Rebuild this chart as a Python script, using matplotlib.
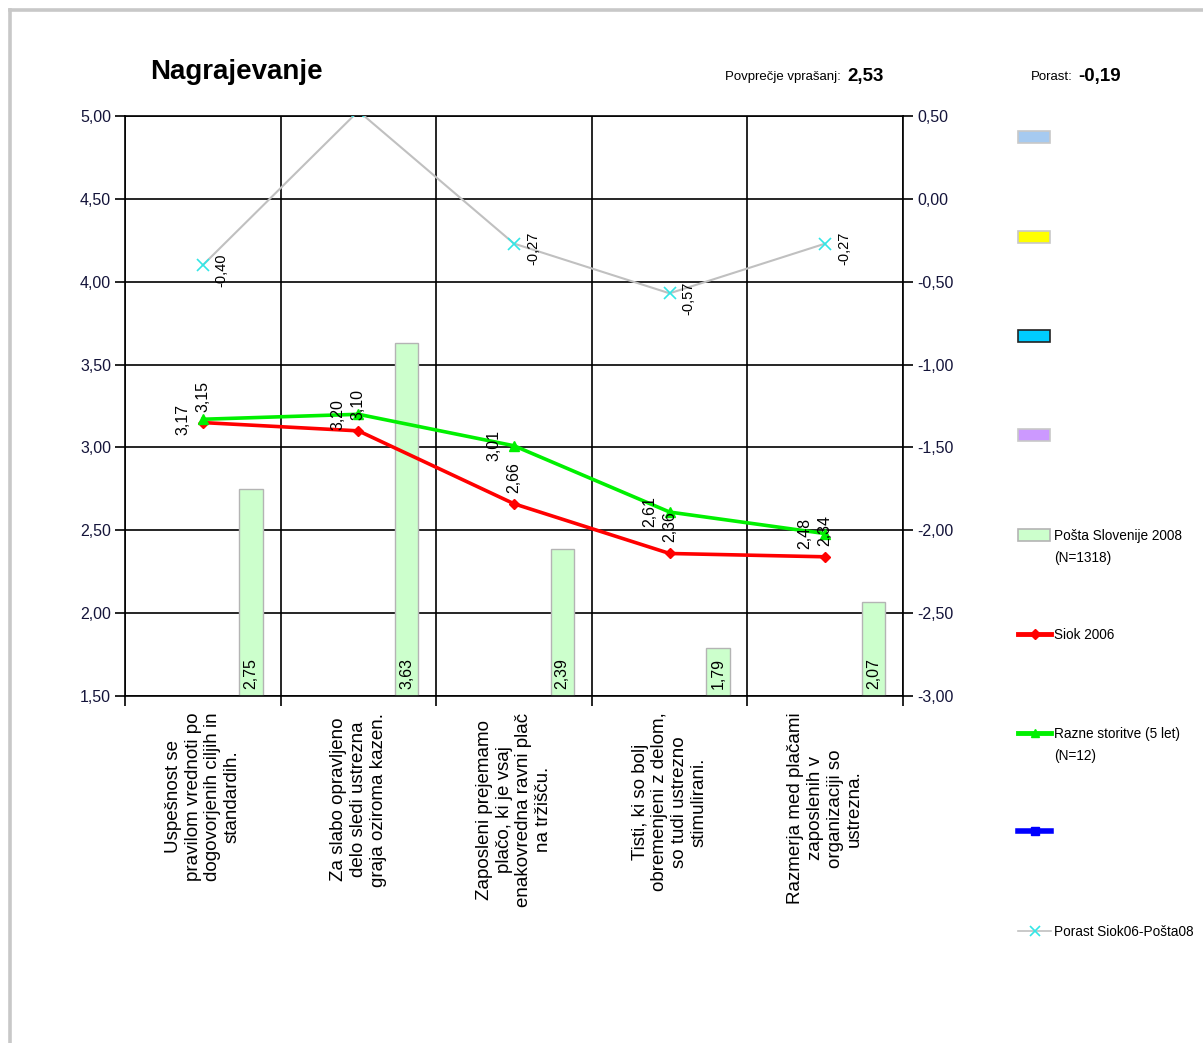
import matplotlib
matplotlib.use("Agg")
import matplotlib.pyplot as plt
from matplotlib import font_manager
from matplotlib.patches import Rectangle
from matplotlib.lines import Line2D
from matplotlib.ticker import FuncFormatter, MultipleLocator

######## DATA
categories = [
    "Uspešnost se\npravilom vrednoti po\ndogovorjenih ciljih in\nstandardih.",
    "Za slabo opravljeno\ndelo sledi ustrezna\ngraja oziroma kazen.",
    "Zaposleni prejemamo\nplačo, ki je vsaj\nenakovredna ravni plač\nna tržišču.",
    "Tisti, ki so bolj\nobremenjeni z delom,\nso tudi ustrezno\nstimulirani.",
    "Razmerja med plačami\nzaposlenih v\norganizaciji so\nustrezna.",
]
posta_2008 = [2.75, 3.63, 2.39, 1.79, 2.07]
siok_2006 = [3.15, 3.10, 2.66, 2.36, 2.34]
razne_storitve = [3.17, 3.20, 3.01, 2.61, 2.48]
porast = [-0.40, 0.53, -0.27, -0.57, -0.27]

povprecje = 2.53
porast_skupaj = -0.19

legend_labels = ["", "", "", "",
                 "Pošta Slovenije 2008\n(N=1318)",
                 "Siok 2006",
                 "Razne storitve (5 let)\n(N=12)",
                 "",
                 "Porast Siok06-Pošta08"]

######## FONTS
names = {f.name for f in font_manager.fontManager.ttflist}
base_font = "Liberation Sans" if "Liberation Sans" in names else "DejaVu Sans"
plt.rcParams["font.family"] = base_font


def comma(v, pos=None):
    return f"{v:.2f}".replace(".", ",")


W, H = 1203, 1043
fig = plt.figure(figsize=(W / 100, H / 100), dpi=100)
fig.patch.set_facecolor("white")


def fx(px):
    return px / W


def fy(py):
    return 1 - py / H


# plot area in pixels: x 125..903, y 116..696
ax = fig.add_axes([fx(125), fy(696), fx(903) - fx(125), fy(116) - fy(696)])
ax2 = ax.twinx()

x = list(range(len(categories)))
tick_col = "#14143a"

######## BARS (left axis)
bar_x = [i + 0.31 for i in x]
ax.bar(bar_x, [v - 1.5 for v in posta_2008], bottom=1.5, width=0.15,
       color="#ccffcc", edgecolor="#b4b4b4", linewidth=1.0, zorder=2)
for bx, v in zip(bar_x, posta_2008):
    ax.annotate(comma(v), (bx, 1.5), xytext=(0, 7), textcoords="offset pixels",
                rotation=90, ha="center", va="bottom", fontsize=11.5, color="black", zorder=5)

######## LINES (left axis)
ax.plot(x, siok_2006, color="#ff0000", lw=2.6, marker="D", ms=5.5, zorder=4)
ax.plot(x, razne_storitve, color="#00f000", lw=2.6, marker="^", ms=6.5, zorder=4)

for xi, v in zip(x, siok_2006):
    ax.annotate(comma(v), (xi, v), xytext=(0, 11), textcoords="offset pixels",
                rotation=90, ha="center", va="bottom", fontsize=11.5, zorder=6)
for xi, v in zip(x, razne_storitve):
    ax.annotate(comma(v), (xi, v), xytext=(-20, 0), textcoords="offset pixels",
                rotation=90, ha="center", va="center", fontsize=11.5, zorder=6)

ax.set_xlim(-0.5, len(categories) - 0.5)
ax.set_ylim(1.5, 5.0)
ax.yaxis.set_major_locator(MultipleLocator(0.5))
ax.yaxis.set_major_formatter(FuncFormatter(comma))

# vertical grid lines between categories, labels under each category
ax.set_xticks([i - 0.5 for i in range(len(categories) + 1)])
ax.set_xticklabels([])
ax.set_xticks(x, minor=True)
ax.set_xticklabels(categories, minor=True, rotation=90, ha="center", va="top",
                   multialignment="center", fontsize=13.5, linespacing=1.2)
ax.tick_params(axis="x", which="minor", length=0, pad=12)
ax.tick_params(axis="x", which="major", length=7, width=1.2, direction="out")
ax.tick_params(axis="y", length=7, width=1.2, direction="out", labelsize=11.5,
               labelcolor=tick_col, pad=3)
ax.grid(True, which="major", color="black", lw=1.2, zorder=0)
ax.set_axisbelow(True)
for s in ax.spines.values():
    s.set_color("black")
    s.set_linewidth(1.2)

######## PORAST (right axis)
ax2.plot(x, porast, color="#c0c0c0", lw=1.5, zorder=3)
ax2.plot(x, porast, ls="none", marker="x", ms=8, mew=1.2, color="#33e6e6", zorder=4)
for xi, v in zip(x, porast):
    if v <= 0.5:
        ax2.annotate(comma(v), (xi, v), xytext=(19, -5), textcoords="offset pixels",
                     rotation=90, ha="center", va="center", fontsize=10.5, zorder=6)
ax2.set_ylim(-3.0, 0.5)
ax2.yaxis.set_major_locator(MultipleLocator(0.5))
ax2.yaxis.set_major_formatter(FuncFormatter(comma))
ax2.tick_params(axis="y", length=7, width=1.2, direction="out", labelsize=11.5,
                labelcolor=tick_col, pad=3)
for s in ax2.spines.values():
    s.set_visible(False)

######## HEADER
fig.text(fx(150), fy(72), "Nagrajevanje", fontsize=20, fontweight="bold",
         va="center", ha="left")
fig.text(fx(841), fy(77), "Povprečje vprašanj:", fontsize=9.5,
         va="center", ha="right")
fig.text(fx(847), fy(76), comma(povprecje), fontsize=13.5, fontweight="bold",
         va="center", ha="left")
fig.text(fx(1073), fy(77), "Porast:", fontsize=9.5,
         va="center", ha="right")
fig.text(fx(1078), fy(76), comma(porast_skupaj), fontsize=13.5, fontweight="bold",
         va="center", ha="left")

######## LEGEND
leg_y = [137, 237, 336, 435, 535, 634, 733, 831, 931]
patch_styles = [("#a6caf0", "#c8c8c8"), ("#ffff00", "#c8c8c8"),
                ("#00ccff", "#222222"), ("#cc99ff", "#c8c8c8"),
                ("#ccffcc", "#b4b4b4")]
for i, (fc, ec) in enumerate(patch_styles):
    y = leg_y[i]
    fig.add_artist(Rectangle((fx(1018), fy(y + 6)), fx(1050) - fx(1018), fy(y - 6) - fy(y + 6),
                             facecolor=fc, edgecolor=ec, lw=1.2, transform=fig.transFigure))

line_styles = [("#ff0000", "D", 5, 3.5), ("#00f000", "^", 6, 3.5), ("#0000ff", "s", 6, 4.0)]
for (col, mk, ms, lw), y in zip(line_styles, leg_y[5:8]):
    fig.add_artist(Line2D([fx(1018), fx(1051)], [fy(y), fy(y)], color=col, lw=lw,
                          transform=fig.transFigure))
    fig.add_artist(Line2D([fx(1034.5)], [fy(y)], color=col, marker=mk, ms=ms,
                          transform=fig.transFigure))
y = leg_y[8]
fig.add_artist(Line2D([fx(1018), fx(1051)], [fy(y), fy(y)], color="#c0c0c0", lw=1.2,
                      transform=fig.transFigure))
fig.add_artist(Line2D([fx(1034.5)], [fy(y)], color="#33e6e6", marker="x", ms=7, mew=1.2,
                      transform=fig.transFigure))

# one text per line so the second line sits ~22 px below the first
for y, lab in zip(leg_y, legend_labels):
    for k, line in enumerate(lab.split("\n")):
        if line:
            fig.text(fx(1054), fy(y + 1 + 22 * k), line, fontsize=9.8,
                     va="center", ha="left")

######## OUTER FRAME
fig.add_artist(Line2D([fx(9.5), fx(9.5)], [fy(9.5), fy(H)], color="#c8c8c8", lw=2.6,
                      transform=fig.transFigure))
fig.add_artist(Line2D([fx(9.5), fx(W)], [fy(9.5), fy(9.5)], color="#c8c8c8", lw=2.6,
                      transform=fig.transFigure))

fig.savefig("out.png", dpi=100)
